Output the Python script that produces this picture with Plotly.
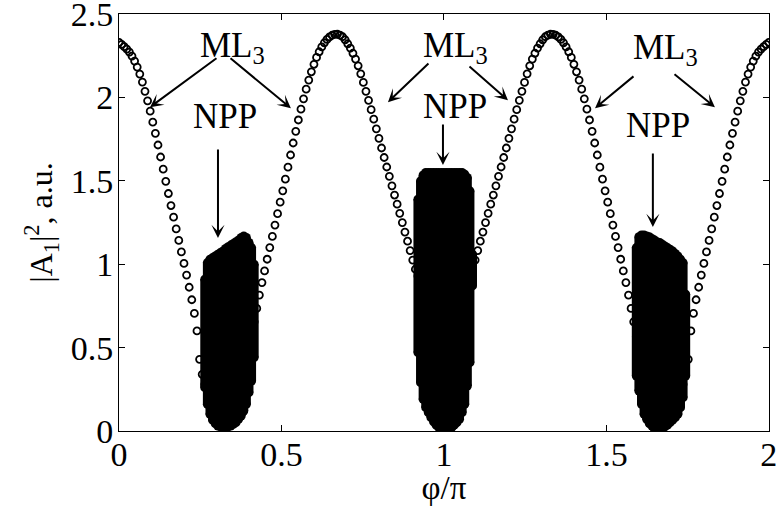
import numpy as np
import plotly.graph_objects as go

# |A1|^2 along the phase scan, one value per step of 0.008 in phi/pi (0 .. 2)
a1_sq = [
    2.330, 2.318, 2.305, 2.290, 2.272, 2.248, 2.218, 2.182, 2.140, 2.092,
    2.037, 1.980, 1.918, 1.852, 1.785, 1.715, 1.643, 1.570, 1.497, 1.424,
    1.352, 1.282, 1.212, 1.143, 1.074, 1.005, 0.935, 0.862, 0.787, 0.705,
    0.600, 0.430, 0.340, 0.280, 0.240, 0.210, 0.195, 0.185, 0.178, 0.174,
    0.172, 0.172, 0.176, 0.185, 0.200, 0.222, 0.252, 0.292, 0.342, 0.402,
    0.478, 0.565, 0.655, 0.735, 0.815, 0.890, 0.960, 1.030, 1.100, 1.167,
    1.235, 1.303, 1.372, 1.440, 1.510, 1.582, 1.655, 1.727, 1.797, 1.865,
    1.930, 1.992, 2.050, 2.104, 2.154, 2.199, 2.240, 2.274, 2.303, 2.328,
    2.348, 2.363, 2.373, 2.378, 2.379, 2.374, 2.364, 2.346, 2.322, 2.296,
    2.265, 2.230, 2.190, 2.142, 2.090, 2.037, 1.983, 1.927, 1.870, 1.812,
    1.755, 1.697, 1.640, 1.583, 1.527, 1.470, 1.415, 1.360, 1.305, 1.250,
    1.193, 1.138, 1.082, 1.025, 0.970, 0.930, 0.895, 0.862, 0.832, 0.805,
    0.782, 0.762, 0.746, 0.734, 0.727,
    0.725,
    0.727, 0.734, 0.746, 0.762, 0.782,
    0.805, 0.832, 0.862, 0.895, 0.930, 0.970, 1.025, 1.082, 1.138, 1.193,
    1.250, 1.305, 1.360, 1.415, 1.470, 1.527, 1.583, 1.640, 1.697, 1.755,
    1.812, 1.870, 1.927, 1.983, 2.037, 2.090, 2.142, 2.190, 2.230, 2.265,
    2.296, 2.322, 2.346, 2.364, 2.374, 2.379, 2.378, 2.373, 2.363, 2.348,
    2.328, 2.303, 2.274, 2.240, 2.199, 2.154, 2.104, 2.050, 1.992, 1.930,
    1.865, 1.797, 1.727, 1.655, 1.582, 1.510, 1.440, 1.372, 1.303, 1.235,
    1.167, 1.100, 1.030, 0.960, 0.890, 0.815, 0.735, 0.655, 0.565, 0.478,
    0.402, 0.342, 0.292, 0.252, 0.222, 0.200, 0.185, 0.176, 0.172, 0.172,
    0.174, 0.178, 0.185, 0.195, 0.210, 0.240, 0.280, 0.340, 0.430, 0.600,
    0.705, 0.787, 0.862, 0.935, 1.005, 1.074, 1.143, 1.212, 1.282, 1.352,
    1.424, 1.497, 1.570, 1.643, 1.715, 1.785, 1.852, 1.918, 1.980, 2.037,
    2.092, 2.140, 2.182, 2.218, 2.248, 2.272, 2.290, 2.305, 2.318, 2.330,
]
phi = np.round(np.arange(len(a1_sq)) * 0.008, 3)

# Non-periodic pulsation (NPP) windows: spread of |A1|^2 (min, max) per phase step
npp1_phi = [0.264, 0.272, 0.280, 0.288, 0.296, 0.304, 0.312, 0.320, 0.328, 0.336,
            0.344, 0.352, 0.360, 0.368, 0.376, 0.384, 0.392, 0.400, 0.408, 0.416]
npp1_lo = [0.26, 0.16, 0.10, 0.065, 0.045, 0.03, 0.025, 0.02, 0.02, 0.025,
           0.03, 0.04, 0.05, 0.07, 0.09, 0.12, 0.16, 0.23, 0.30, 0.44]
npp1_hi = [0.91, 1.01, 1.03, 1.04, 1.05, 1.06, 1.07, 1.08, 1.095, 1.105,
           1.115, 1.125, 1.135, 1.145, 1.16, 1.17, 1.16, 1.13, 1.10, 1.00]

npp2_phi = [0.920, 0.928, 0.936, 0.944, 0.952, 0.960, 0.968, 0.976, 0.984, 0.992, 1.000,
            1.008, 1.016, 1.024, 1.032, 1.040, 1.048, 1.056, 1.064, 1.072, 1.080, 1.088]
npp2_lo = [0.47, 0.29, 0.19, 0.14, 0.11, 0.08, 0.055, 0.035, 0.02, 0.01, 0.005,
           0.005, 0.01, 0.02, 0.035, 0.05, 0.07, 0.11, 0.16, 0.27, 0.41, 0.87]
npp2_hi = [1.39, 1.50, 1.535, 1.55, 1.55, 1.55, 1.55, 1.55, 1.55, 1.55, 1.55,
           1.55, 1.55, 1.55, 1.55, 1.55, 1.55, 1.55, 1.54, 1.52, 1.44, 1.06]

npp3_phi = [1.592, 1.600, 1.608, 1.616, 1.624, 1.632, 1.640, 1.648, 1.656, 1.664,
            1.672, 1.680, 1.688, 1.696, 1.704, 1.712, 1.720, 1.728, 1.736, 1.744]
npp3_lo = [0.33, 0.24, 0.16, 0.10, 0.07, 0.045, 0.03, 0.01, 0.005, 0.01,
           0.02, 0.025, 0.035, 0.05, 0.065, 0.08, 0.10, 0.14, 0.20, 0.33]
npp3_hi = [1.10, 1.165, 1.175, 1.175, 1.17, 1.165, 1.155, 1.145, 1.135, 1.13,
           1.12, 1.11, 1.10, 1.09, 1.08, 1.065, 1.05, 1.03, 1.01, 0.82]

x_ticks = [0, 0.5, 1, 1.5, 2]
x_tick_text = ["0", "0.5", "1", "1.5", "2"]
y_ticks = [0, 0.5, 1, 1.5, 2, 2.5]
y_tick_text = ["0", "0.5", "1", "1.5", "2", "2.5"]

FONT = "Liberation Serif"

fig = go.Figure()

# mode-locked branch: open circles
fig.add_trace(go.Scatter(
    x=phi, y=a1_sq, mode="markers", showlegend=False, hoverinfo="skip",
    marker=dict(symbol="circle-open", size=7, color="black", line=dict(width=1.8)),
))


def npp_trace(xs, lo, hi):
    px, py = [], []
    for x, a, b in zip(xs, lo, hi):
        px += [x, x, None]
        py += [a, b, None]
    return go.Scatter(
        x=px, y=py, mode="lines+markers", showlegend=False, hoverinfo="skip",
        line=dict(color="black", width=9),
        marker=dict(symbol="circle", size=9, color="black"),
    )


for xs, lo, hi in [(npp1_phi, npp1_lo, npp1_hi),
                   (npp2_phi, npp2_lo, npp2_hi),
                   (npp3_phi, npp3_lo, npp3_hi)]:
    fig.add_trace(npp_trace(xs, lo, hi))

annotations = []

# labels
labels = [
    ("ML<sub>3</sub>", 0.349, 2.30),
    ("ML<sub>3</sub>", 1.037, 2.30),
    ("ML<sub>3</sub>", 1.683, 2.285),
    ("NPP", 0.326, 1.883),
    ("NPP", 1.034, 1.948),
    ("NPP", 1.658, 1.829),
]
for text, x, y in labels:
    annotations.append(dict(
        text=text, x=x, y=y, xref="x", yref="y", showarrow=False,
        xanchor="center", yanchor="middle",
        font=dict(family=FONT, size=35, color="black"),
    ))

# arrows: (tail x, tail y, head x, head y)
arrows = [
    (0.3046, 2.242, 0.0954, 1.942),
    (0.3385, 2.242, 0.529, 1.936),
    (0.957, 2.212, 0.8277, 1.972),
    (1.074, 2.194, 1.197, 1.984),
    (1.588, 2.134, 1.465, 1.936),
    (1.705, 2.146, 1.834, 1.942),
    (0.3046, 1.697, 0.3046, 1.157),
    (0.997, 1.847, 0.997, 1.595),
    (1.643, 1.673, 1.643, 1.223),
]
for ax_, ay_, x, y in arrows:
    annotations.append(dict(
        text="", x=x, y=y, ax=ax_, ay=ay_, xref="x", yref="y",
        axref="x", ayref="y", showarrow=True,
        arrowhead=3, arrowsize=1.1, arrowwidth=2, arrowcolor="black",
    ))

axis_common = dict(
    showline=True, linecolor="black", linewidth=1, mirror="ticks",
    ticks="inside", ticklen=6, tickwidth=1, tickcolor="black",
    showgrid=False, zeroline=False, automargin=False,
    ticklabeloverflow="allow",
    tickfont=dict(family=FONT, size=34, color="black"),
)

fig.update_layout(
    width=776, height=506,
    margin=dict(l=119, r=7, t=14, b=75),
    paper_bgcolor="white", plot_bgcolor="white",
    font=dict(family=FONT, color="black"),
    xaxis=dict(range=[0, 2.0004], tickvals=x_ticks, ticktext=x_tick_text,
               ticklabelstandoff=-7,
               title=dict(text="\u03c6/\u03c0", font=dict(family=FONT, size=33), standoff=4),
               **axis_common),
    yaxis=dict(range=[0, 2.5005], tickvals=y_ticks, ticktext=y_tick_text,
               ticklabelstandoff=-2,
               title=dict(text="|A<sub>1</sub>|<sup>2</sup>, a.u.", font=dict(family=FONT, size=32), standoff=8),
               **axis_common),
    annotations=annotations,
)

fig.write_html("out.html")
